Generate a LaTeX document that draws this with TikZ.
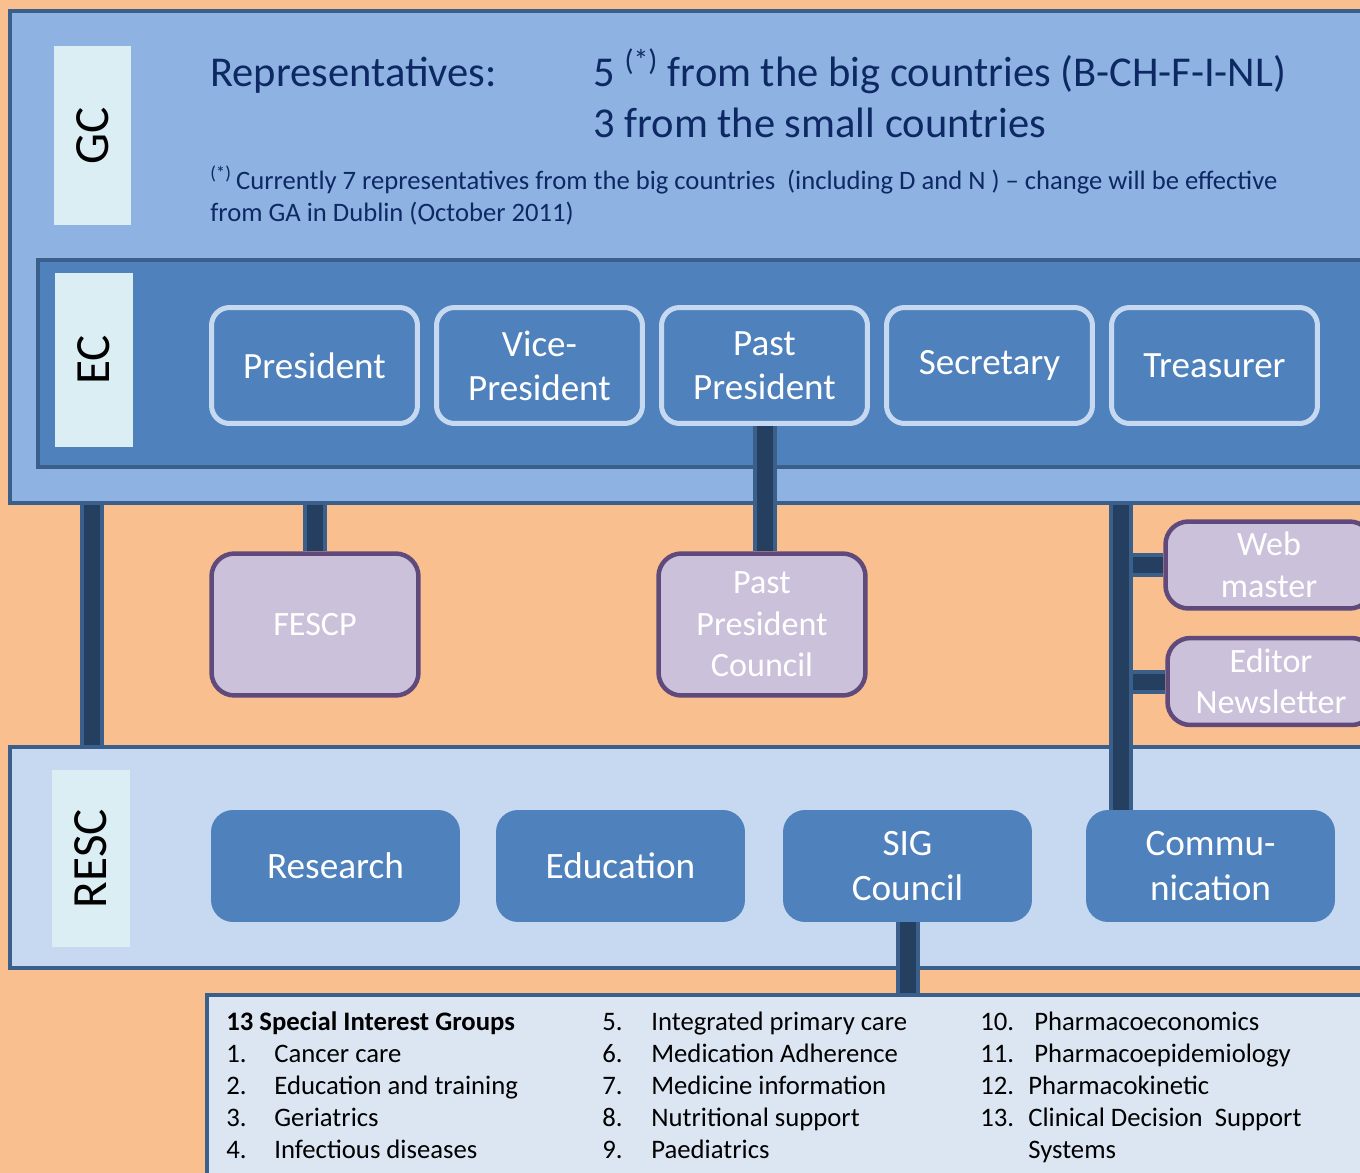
\documentclass[tikz,border=0pt]{standalone}
\usepackage{fontspec}
\setmainfont{Carlito}
\usepackage{tikz}

\begin{document}
\begin{tikzpicture}[x=0.02cm,y=-0.02cm,
  panel/.style={draw=edgeBlue, line width=0.08cm, anchor=north west, inner sep=0pt},
  tag/.style={fill=tagColor, rotate=90, inner sep=0pt, text=black, font=\fontsize{28}{34}\selectfont},
  bigtxt/.style={anchor=base west, inner sep=0pt, text=navyText, font=\fontsize{24.2}{29}\selectfont},
  foottxt/.style={anchor=base west, inner sep=0pt, text=navyText, font=\fontsize{15.15}{18}\selectfont},
  ecbox/.style={draw=lineLight, fill=ecColor, line width=0.1cm, rounded corners=0.36cm, minimum width=4.12cm, minimum height=2.32cm, align=center, inner sep=0pt, text=white, font=\fontsize{21.1}{25}\selectfont},
  lilac/.style={draw=lilacEdge, fill=lilacFill, line width=0.09cm, rounded corners=0.46cm, minimum width=4.14cm, align=center, inner sep=0pt, text=white, font=\fontsize{19.4}{23.6}\selectfont},
  rescbox/.style={fill=ecColor, rounded corners=0.44cm, minimum width=4.98cm, minimum height=2.24cm, align=center, inner sep=0pt, text=white, font=\fontsize{21.2}{25.6}\selectfont},
  listtxt/.style={anchor=base west, inner sep=0pt, text=black, font=\fontsize{15.2}{18}\selectfont},
  bar/.style={draw=edgeBlue, line width=0.08cm, double=barBlue, double distance=0.32cm}]
\definecolor{pageOrange}{RGB}{249,191,143}
\definecolor{gcColor}{RGB}{142,179,226}
\definecolor{ecColor}{RGB}{79,129,189}
\definecolor{rescColor}{RGB}{198,217,240}
\definecolor{listColor}{RGB}{220,230,242}
\definecolor{tagColor}{RGB}{219,238,243}
\definecolor{edgeBlue}{RGB}{58,95,139}
\definecolor{barBlue}{RGB}{36,63,96}
\definecolor{lineLight}{RGB}{198,217,241}
\definecolor{lilacFill}{RGB}{204,193,218}
\definecolor{lilacEdge}{RGB}{96,74,123}
\definecolor{navyText}{RGB}{14,40,100}
\useasboundingbox (0,0) rectangle (1360,1173);
\clip (0,0) rectangle (1360,1173);
\fill[pageOrange] (0,0) rectangle (1360,1173);
\node[panel, fill=gcColor, minimum width=28cm, minimum height=9.84cm] (gc) at (8,9) {};
\node[panel, fill=ecColor, minimum width=28cm, minimum height=4.14cm] (ec) at (36,258) {};
\node[panel, fill=rescColor, minimum width=28cm, minimum height=4.42cm] (resc) at (8,745) {};
\node[panel, fill=listColor, minimum width=28cm, minimum height=4cm] (sigs) at (205,993) {};
\node[tag, minimum width=3.58cm, minimum height=1.54cm] (gctag) at (92.5,135.5) {GC};
\node[tag, minimum width=3.48cm, minimum height=1.56cm] (ectag) at (94,360) {EC};
\node[tag, minimum width=3.54cm, minimum height=1.56cm] (resctag) at (91,858.5) {RESC};
\node[bigtxt] (reptitle) at (210,86) {Representatives:};
\node[bigtxt] (repbig) at (593,86) {5 \textsuperscript{(*)} from the big countries (B-CH-F-I-NL)};
\node[bigtxt] (repsmall) at (593,137) {3 from the small countries};
\node[foottxt] (footA) at (210,189) {\textsuperscript{(*)}\,Currently 7 representatives from the big countries\ \ (including D and N\ ) – change will be effective};
\node[foottxt] (footB) at (210,221) {from GA in Dublin (October 2011)};
\foreach \x/\name/\txt in {314.5/pres/{President}, 539.5/vice/{Vice-\\President}, 764.5/past/{Past\\President}, 989.5/secr/{Secretary}, 1214.5/treas/{Treasurer}}
  \node[ecbox] (\name) at (\x,365.5) {\txt};
\node[lilac, minimum height=2.84cm] (fescp) at (315,624.5) {FESCP};
\node[lilac, minimum height=2.84cm] (ppc) at (762,624.5) {Past\\President\\Council};
\node[lilac, minimum height=1.74cm] (web) at (1269,565) {Web\\master};
\node[lilac, minimum height=1.74cm] (editor) at (1271,681.5) {Editor\\Newsletter};
\foreach \x/\name/\txt in {335.5/research/{Research}, 620.5/educ/{Education}, 907.5/sigc/{SIG\\Council}, 1210.5/comm/{Commu-\\nication}}
  \node[rescbox] (\name) at (\x,866) {\txt};
\node[listtxt, font=\fontsize{15.2}{18}\selectfont\bfseries] (sighead) at (226,1030) {13 Special Interest Groups};
\foreach \n/\t [count=\k] in {1/Cancer care, 2/Education and training, 3/Geriatrics, 4/Infectious diseases} {
  \node[listtxt] (num\n) at (226,{1030+32*\k}) {\n.};
  \node[listtxt] (item\n) at (274,{1030+32*\k}) {\t};
}
\foreach \n/\t [count=\k from 0] in {5/Integrated primary care, 6/Medication Adherence, 7/Medicine information, 8/Nutritional support, 9/Paediatrics} {
  \node[listtxt] (num\n) at (602,{1030+32*\k}) {\n.};
  \node[listtxt] (item\n) at (651,{1030+32*\k}) {\t};
}
\foreach \n/\t/\xo [count=\k from 0] in {10/Pharmacoeconomics/1034, 11/Pharmacoepidemiology/1034, 12/Pharmacokinetic/1028, 13/Clinical Decision\ \ Support/1028} {
  \node[listtxt] (num\n) at (980,{1030+32*\k}) {\n.};
  \node[listtxt] (item\n) at (\xo,{1030+32*\k}) {\t};
}
\node[listtxt] (item13b) at (1028,1158) {Systems};
\coordinate (leftbar) at (92,505);
\coordinate (combar) at (1121,505);
\draw[bar] (leftbar) -- (leftbar |- resc.north);
\draw[bar] (fescp.north) -- (fescp.north |- gc.south);
\draw[bar] (past.south) -- (past.south |- ppc.north);
\draw[bar] (web.west -| combar) -- (web.west);
\draw[bar] (editor.west -| combar) -- (editor.west);
\draw[bar] (combar) -- (combar |- comm.north);
\draw[bar] (sigc.south) -- (sigc.south |- sigs.north);
\end{tikzpicture}
\end{document}
